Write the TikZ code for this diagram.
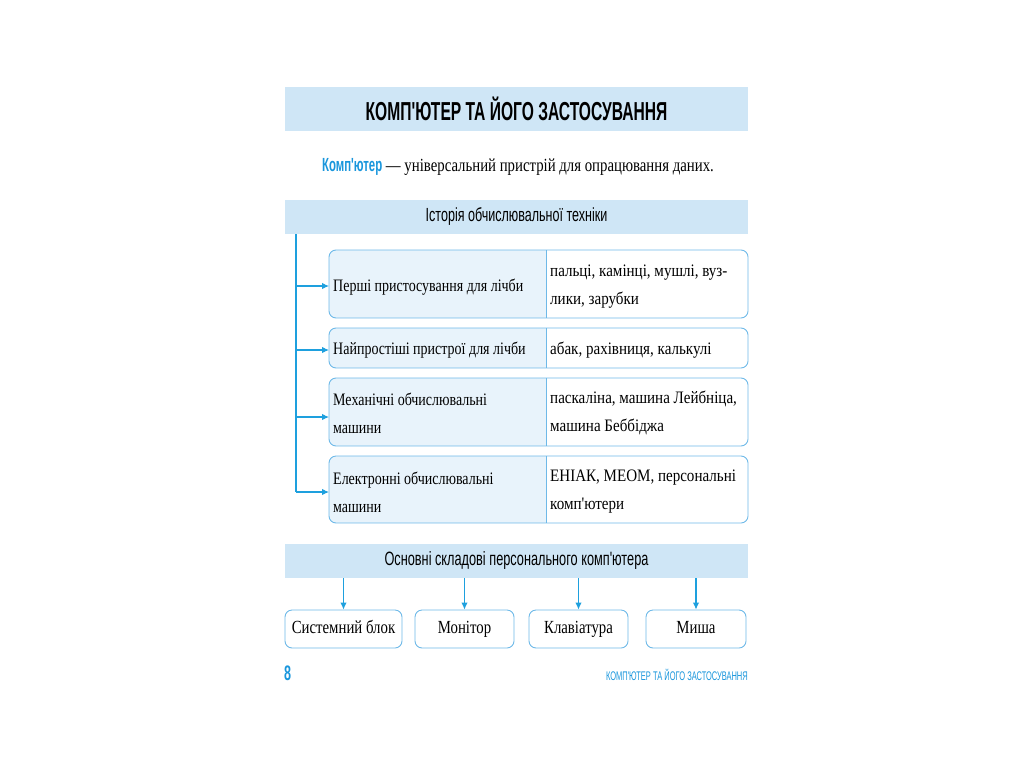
\documentclass[tikz,border=0pt]{standalone}
\usepackage{fontspec}
\setmainfont{Liberation Serif}
\newfontfamily\serifc[FakeStretch=0.8]{Liberation Serif}
\newfontfamily\serifr[FakeStretch=0.86]{Liberation Serif}
\newfontfamily\sansc[FakeStretch=0.6]{Liberation Sans}
\newfontfamily\sansn[FakeStretch=0.66]{Liberation Sans}
\usetikzlibrary{arrows.meta}
\definecolor{band}{RGB}{207,230,246}
\definecolor{boxfill}{RGB}{232,243,251}
\definecolor{boxline}{RGB}{110,185,232}
\definecolor{arrowc}{RGB}{30,160,222}
\definecolor{bluetext}{RGB}{25,150,220}
\tikzset{
  bandbox/.style={fill=band, draw=none, minimum width=463pt, inner sep=0pt},
  histbox/.style={draw=boxline, line width=0.9pt, rounded corners=7pt},
  parttext/.style={anchor=west, align=left, inner sep=0pt, font=\serifc\fontsize{17.5}{28}\selectfont},
  righttext/.style={anchor=west, align=left, inner sep=0pt, font=\serifr\fontsize{17.5}{28}\selectfont},
  partbox/.style={draw=boxline, line width=0.9pt, rounded corners=7pt, fill=white, minimum height=38pt, inner sep=0pt, text height=12pt, text depth=4pt, font=\serifc\fontsize{18.5}{20}\selectfont},
  conn/.style={draw=arrowc, line width=1.1pt, -{Latex[length=7pt,width=6.5pt]}},
}
\begin{document}
\begin{tikzpicture}[x=1pt,y=-1pt]
\useasboundingbox (0,0) rectangle (1024,768);
% title
\node[bandbox, minimum height=44pt, font=\sansc\bfseries\fontsize{26}{28}\selectfont] (title) at (516.5,109) {КОМП'ЮТЕР ТА ЙОГО ЗАСТОСУВАННЯ};
% definition
\node[inner sep=0pt, font=\serifc\fontsize{18.5}{20}\selectfont] (def) at (518,167) {{\sansc\bfseries\fontsize{19}{20}\selectfont\color{bluetext}Комп'ютер} — універсальний пристрій для опрацювання даних.};
% history band
\node[bandbox, minimum height=34pt, font=\sansn\fontsize{19}{20}\selectfont] (hist) at (516.5,217) {Історія обчислювальної техніки};
% history boxes
\foreach \t/\b/\n in {250/318/h1, 328/368/h2, 378/446/h3, 456/523/h4}{
  \begin{scope}
    \clip[rounded corners=7pt] (329,\t) rectangle (748,\b);
    \fill[boxfill] (329,\t) rectangle (546,\b);
  \end{scope}
  \draw[boxline, line width=0.9pt] (546,\t) -- (546,\b);
  \draw[histbox] (329,\t) rectangle (748,\b);
  \coordinate (\n) at (329,{(\t+\b)/2});
}
\node[parttext] (l1) at (333,287) {Перші пристосування для лічби};
\node[righttext] (r1) at (550,287) {пальці, камінці, мушлі, вуз-\\лики, зарубки};
\node[parttext] (l2) at (333,350) {Найпростіші пристрої для лічби};
\node[righttext] (r2) at (550,350) {абак, рахівниця, калькулі};
\node[parttext] (l3) at (333,413) {Механічні обчислювальні\\машини};
\node[righttext] (r3) at (550,413) {паскаліна, машина Лейбніца,\\машина Беббіджа};
\node[parttext] (l4) at (333,492) {Електронні обчислювальні\\машини};
\node[righttext] (r4) at (550,492) {ЕНІАК, МЕОМ, персональні\\комп'ютери};
\coordinate (vtop) at (296,234);
\coordinate (a1) at (296,286);
\coordinate (a2) at (296,350);
\coordinate (a3) at (296,417);
\coordinate (a4) at (296,492);
\draw[arrowc, line width=1.1pt] (vtop) -- (a4);
\draw[conn] (a1) -- (a1 -| h1);
\draw[conn] (a2) -- (a2 -| h2);
\draw[conn] (a3) -- (a3 -| h3);
\draw[conn] (a4) -- (a4 -| h4);
% components band
\node[bandbox, minimum height=34pt, font=\sansn\fontsize{19.3}{22}\selectfont] (comp) at (516.5,561) {Основні складові персонального комп'ютера};
\node[partbox, minimum width=117pt] (p1) at (343.5,629) {Системний блок};
\node[partbox, minimum width=99pt] (p2) at (464.5,629) {Монітор};
\node[partbox, minimum width=99pt] (p3) at (578.5,629) {Клавіатура};
\node[partbox, minimum width=100pt] (p4) at (696,629) {Миша};
\foreach \p in {p1,p2,p3,p4}{
  \draw[conn] (comp.south -| \p.north) -- (\p.north);
}
% footer
\node[inner sep=0pt, anchor=west, font=\sansc\bfseries\fontsize{21}{22}\selectfont, text=bluetext] (pg) at (284,673) {8};
\node[inner sep=0pt, anchor=east, font=\sansc\fontsize{12.5}{13}\selectfont, text=bluetext] (ft) at (748,675) {КОМП'ЮТЕР ТА ЙОГО ЗАСТОСУВАННЯ};
\end{tikzpicture}
\end{document}
